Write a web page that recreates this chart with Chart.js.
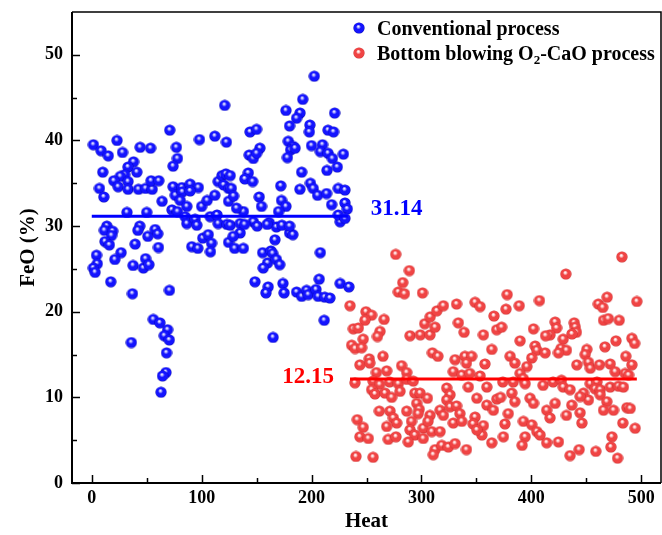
<!DOCTYPE html>
<html><head><meta charset="utf-8">
<script src="https://cdn.jsdelivr.net/npm/chart.js@4.4.1/dist/chart.umd.min.js"></script>
<style>html,body{margin:0;padding:0;background:#fff;}canvas{display:block;}</style>
</head><body>
<canvas id="c" width="662" height="535"></canvas>
<script>
const seriesNames = ['Conventional process', 'Bottom blowing O2-CaO process'];
const xTicks = [0, 100, 200, 300, 400, 500];
const yTicks = [0, 10, 20, 30, 40, 50];
const blueMean = 31.14;
const redMean = 12.15;
const blueMeanRange = [0, 233];
const redMeanRange = [235, 496];

const blueX = [1.5,8.5,15,23,28,10,44,53.5,71,77,78,74,98,112,122.5,121,38,33,41,30,26,20,24,33,33,7,11,42.5,49,55,54,61,64,32,50,74,82,89.5,97,76,82.5,89.5,80.5,100,105,112,115,118.5,122,120,124.5,124.5,73,78,86.5,85,86.5,94,107.8,114,95.6,115,123,
13.7,11.5,19,18,12,16,26.7,21,4.3,5,1.5,3,17.3,37,43.7,42,39.5,51,57.7,60,60.7,37.6,47,49,52,70.7,56,62,69,66,70.5,36,68,67.5,64.4,63,91,96.5,101,106,109,108,124.5,
126,135,147,161.5,168,135,128.7,180,183,226,130,138,166.7,155.5,163,164.6,208,160,156,168,171,148.5,160.5,158.5,174,175,207,186.4,191,195.5,197,204,206,212,216.7,226,234,211.5,165,
202.5,192,176.7,189.5,186.4,221,180,198.5,198,215,220,144,150,178.8,183.4,181,178,185,200,210,208,215,219,229,223.4,214,143.3,147,153,150,191,142.4,139.3,146.4,172,189.4,199,201.5,205.5,213.7,224.3,230.4,152.4,172.7,176.7,218.3,230.4,232.5,154.5,138,131.7,224.3,230.4,170,139,150.5,159.6,173,180,126,127,129];
const blueY = [39.5,38.8,38.2,40,38.6,36.3,39.2,39.1,41.2,39.2,37.9,37,40.1,40.5,39.8,44.1,37.5,36.9,36.3,36,35.8,35.3,34.6,35.2,34.3,34.4,33.4,34.3,34.4,34.3,35.3,35.3,32.9,31.6,31.6,34.6,34.5,34.9,34.5,33.6,34,34.1,33,32.3,33,33.6,35.2,35.9,36.1,34.8,34.4,32.9,31.9,31.7,32.3,31.1,30.3,30.8,31.1,31.3,30.1,30.3,30.2,
30,29.5,29.4,28.9,28.2,27.8,26.9,26.1,26.6,25.6,25.1,24.6,23.5,22.1,30,29.5,27.9,28.8,29.6,29.1,27.5,25.4,25.1,26.2,25.5,22.5,19.1,18.7,17.9,17.2,16.7,16.4,15.2,12.9,12.5,10.6,27.6,27.4,28.6,29,28,27,28.1,
30.1,30.3,30.5,30.4,29.9,29.2,28.8,29.2,29,30.5,27.4,27.4,28.4,26.9,27.1,26.8,26.9,25.7,25.1,26.1,25.5,23.5,22.9,22.2,23.3,22.2,23.8,22.3,21.8,22.5,22,22.6,21.8,21.7,21.6,23.3,22.9,19,17,
47.5,44.8,43.5,43.2,42.6,43.2,41.7,41.8,41,41.2,41,41,41.3,39.9,39.3,38.9,38,39.1,39.4,39.5,38.7,38.5,37.9,38.4,36.9,36.5,38.3,37.9,39.1,38.5,36.3,36.2,35.5,35.2,34.7,34.3,35,34.4,33.6,33.8,34.4,34.2,33.4,33,32.3,32.5,32.7,32,32.3,31.7,32.1,31.3,30.9,31.7,30.2,30,30.2,30.1,30,35.9,34.4,33.5];

const redX = [276.6,289,283,279,284.5,301,235,249.5,254.7,248.6,238,242.6,247,236.5,239.6,245.6,266,262.3,260,265,252.5,289.6,299,307.8,303,308,314,320,312.4,332,333.6,338.8,348.8,353.4,366,356.4,368.5,364,310,315,330.6,339.6,345.7,
482.4,431.4,378,377,389,407.4,461,465,469,496,465.7,470,480,373,402,421.7,423,417,413,429,439,440,441,437,389.8,403.5,405,412.6,427,432,450.5,449,467,477,491.5,494,486,380.7,400.4,
244,253,259,268.4,282,286.6,329,336.7,341,344,353.4,357.8,239.5,256,262,271,279,286.6,292.6,342.7,359.5,350.4,368.6,359.5,365.5,254.7,257.7,266.8,272.9,280.5,294,298.7,305.4,295.7,298,297,323,326,323,261.7,271.4,274.4,277.5,286.6,307.8,317,326,332,335,320,329,336.7,348.8,347,356.4,355,350.4,241.6,247,244,251.7,268.4,269.8,276.8,291,289.6,294,301.7,306,309.4,301.7,288,317,312.4,310.8,318.5,324.5,330.6,341,364,240.4,256,
385,396,424.7,441.4,452,453.7,462,471.8,476.3,491.5,485.4,488.5,389.8,392.6,383.6,394.4,410.7,419.8,427.4,429,435.3,453.6,459.7,458,462.7,471.8,479.3,483.8,447.5,452,444.4,462.7,382.2,385,398.9,402,379,376,374.6,421.7,414,417,432,436.8,444.4,446,468.7,465.7,474.8,487,490,483.3,494.5,392.8,400.4,405,408,394.4,391.6,414,424.7,473.3,472.4,443.5,435.3,458.7,478.5,372,374];
const redY = [26.7,24.8,23.4,22.3,22.1,22.2,20.7,20,19.6,19,18,18.1,16.8,16.1,15.7,15.8,19.1,17.7,17.1,14.8,14.5,17.2,17.3,17.3,18.6,19.4,20.1,20.7,18.2,20.9,18.7,17.6,21.1,20.6,19.5,17.3,17.9,15.6,15.2,14.8,14.4,14.8,14.8,
26.4,24.4,22,20.3,20.7,21.3,20.9,20.5,21.7,21.2,19,19.2,19,18.2,18,18.8,18.1,17.3,17.2,16.8,18.7,18.2,17.6,17.4,16.6,16,15.5,15.2,15.7,15.5,15.6,15,15.9,16.6,16.9,16.3,14.8,14.8,14.6,
13.8,14,12.9,13.1,13.7,12.9,13,12.6,14,12.8,12.5,13.9,11.7,11.9,11.5,11.8,11.6,12.1,11.9,11.2,11.2,9.9,9.8,9.1,8.5,10.9,10.4,10.5,10,10.7,10.5,10.5,9.9,9.3,8.6,8.1,11.1,10.3,9.7,8.4,8.4,7.6,7,8.4,7.9,8.5,8.9,9,8.1,7.9,7,7.2,7.7,6.9,6.7,5.6,6.2,7.4,6.5,5.4,5.2,6.6,5.1,5.4,7.2,6.2,5.6,6.4,7.2,6,5.2,4.8,6,3.9,3.3,4.4,4.2,4.6,3.9,4.7,3.1,3,
14,13.6,15.2,13.8,14.1,13.4,13.8,13.9,13,13.8,12.8,12.6,12.8,12.2,11.8,11.6,11.4,11.8,12,11.2,10.9,11.6,11.8,11,10.9,11.2,11.3,11.2,10.5,9.7,10.1,10.3,10.5,9.5,9.9,9.3,8.1,6.9,5.4,9.3,8.5,7.6,7.9,9.1,8.2,7,9.5,8.5,8.5,8.8,8.7,7,6.4,7.2,6.8,6,5.6,5.4,4.4,4.7,4.8,5.4,4.2,3.9,3.2,3.7,2.9,10,11.8];

const FONT = "'Liberation Serif', 'Times New Roman', serif";

function makeBall(light, mid, edge) {
  const s = 12, c = document.createElement('canvas');
  c.width = s; c.height = s;
  const g = c.getContext('2d');
  const grad = g.createRadialGradient(5.2, 4.3, 0.2, 6, 6, 5.6);
  grad.addColorStop(0, '#ffffff');
  grad.addColorStop(0.16, light);
  grad.addColorStop(0.42, mid);
  grad.addColorStop(0.85, mid);
  grad.addColorStop(1, edge);
  g.fillStyle = grad;
  g.beginPath(); g.arc(6, 6, 5.6, 0, Math.PI * 2); g.fill();
  return c;
}
const blueBall = makeBall('#b8b8ff', '#1414ff', '#0000b0');
const redBall = makeBall('#ffd6d6', '#f04444', '#c82a2a');

const toPts = (xs, ys) => xs.map((v, i) => ({x: v, y: ys[i]}));

const decor = {
  id: 'decor',
  afterDatasetsDraw(chart) {
    const {ctx, chartArea: a, scales: {x, y}} = chart;
    ctx.save();
    ctx.strokeStyle = '#000';
    ctx.lineWidth = 1.5;
    for (let i = 0; i < yTicks.length; i++) {
      const py = Math.round(y.getPixelForValue(yTicks[i])) + 0.5;
      ctx.beginPath(); ctx.moveTo(a.left, py); ctx.lineTo(a.left + 8, py); ctx.stroke();
      const mv = yTicks[i] + (yTicks[1] - yTicks[0]) / 2;
      if (mv < y.max) {
        const pm = Math.round(y.getPixelForValue(mv)) + 0.5;
        ctx.beginPath(); ctx.moveTo(a.left, pm); ctx.lineTo(a.left + 5, pm); ctx.stroke();
      }
    }
    for (let i = 0; i < xTicks.length; i++) {
      const px = Math.round(x.getPixelForValue(xTicks[i])) + 0.5;
      ctx.beginPath(); ctx.moveTo(px, a.bottom); ctx.lineTo(px, a.bottom - 8); ctx.stroke();
      const mv = xTicks[i] + (xTicks[1] - xTicks[0]) / 2;
      if (mv < x.max) {
        const pm = Math.round(x.getPixelForValue(mv)) + 0.5;
        ctx.beginPath(); ctx.moveTo(pm, a.bottom); ctx.lineTo(pm, a.bottom - 5); ctx.stroke();
      }
    }
    ctx.lineWidth = 1.5;
    ctx.beginPath(); ctx.moveTo(a.left, a.top); ctx.lineTo(a.right, a.top); ctx.lineTo(a.right, a.bottom); ctx.stroke();
    ctx.lineWidth = 2;
    ctx.beginPath(); ctx.moveTo(a.left, a.top); ctx.lineTo(a.left, a.bottom); ctx.lineTo(a.right, a.bottom); ctx.stroke();

    ctx.font = 'bold 23px ' + FONT;
    ctx.textBaseline = 'alphabetic';
    ctx.fillStyle = '#0000ff';
    ctx.textAlign = 'left';
    ctx.fillText(blueMean.toFixed(2), x.getPixelForValue(blueMeanRange[1]) + 23, y.getPixelForValue(blueMean) - 1.5);
    ctx.fillStyle = '#ff0000';
    ctx.textAlign = 'right';
    ctx.fillText(redMean.toFixed(2), x.getPixelForValue(redMeanRange[0]) - 16, y.getPixelForValue(redMean) + 4);

    const lx = 359, tx = 377;
    const rows = [28, 53];
    ctx.drawImage(blueBall, lx - 6, rows[0] - 6);
    ctx.drawImage(redBall, lx - 6, rows[1] - 6);
    ctx.fillStyle = '#000';
    ctx.textAlign = 'left';
    ctx.font = 'bold 20px ' + FONT;
    ctx.fillText(seriesNames[0], tx, rows[0] + 6.5);
    const parts = seriesNames[1].split('O2');
    let cx = tx;
    const by = rows[1] + 6.5;
    ctx.fillText(parts[0] + 'O', cx, by);
    cx += ctx.measureText(parts[0] + 'O').width;
    ctx.font = 'bold 13px ' + FONT;
    ctx.fillText('2', cx, by + 4);
    cx += ctx.measureText('2').width;
    ctx.font = 'bold 20px ' + FONT;
    ctx.fillText(parts[1], cx, by);
    ctx.restore();
  }
};

const tickFont = {family: FONT, size: 18, weight: 'bold'};
const titleFont = {family: FONT, size: 21, weight: 'bold'};
function noPad(s) { s.paddingTop = 0; s.paddingBottom = 0; s.paddingLeft = 0; s.paddingRight = 0; }

new Chart(document.getElementById('c'), {
  type: 'scatter',
  data: {
    datasets: [
      {label: 'mean1', type: 'line', data: [{x: blueMeanRange[0], y: blueMean}, {x: blueMeanRange[1], y: blueMean}], borderColor: '#0000ff', borderWidth: 3, pointRadius: 0, fill: false, order: 0},
      {label: 'mean2', type: 'line', data: [{x: redMeanRange[0], y: redMean}, {x: redMeanRange[1], y: redMean}], borderColor: '#ff0000', borderWidth: 3, pointRadius: 0, fill: false, order: 0},
      {label: seriesNames[1], data: toPts(redX, redY), pointStyle: redBall, pointRadius: 6, order: 1},
      {label: seriesNames[0], data: toPts(blueX, blueY), pointStyle: blueBall, pointRadius: 6, order: 2}
    ]
  },
  options: {
    responsive: false,
    animation: false,
    devicePixelRatio: 1,
    layout: {autoPadding: false, padding: {top: 12, right: 1, left: 0, bottom: 0}},
    plugins: {legend: {display: false}, tooltip: {enabled: false}},
    scales: {
      x: {
        type: 'linear', min: -18, max: 518,
        afterFit(s) { s.height = 52; noPad(s); },
        grid: {display: false, drawTicks: false},
        border: {display: false},
        ticks: {stepSize: 100, includeBounds: false, padding: 5, color: '#000', font: tickFont,
          callback: v => xTicks.includes(v) ? String(v) : ''},
        title: {display: true, text: 'Heat', color: '#000', font: titleFont, padding: {top: 0, bottom: 1}}
      },
      y: {
        type: 'linear', min: 0, max: 55,
        afterFit(s) { s.width = 72; noPad(s); },
        grid: {display: false, drawTicks: false},
        border: {display: false},
        ticks: {stepSize: 10, includeBounds: false, padding: 9, color: '#000', font: tickFont,
          callback: v => yTicks.includes(v) ? String(v) : ''},
        title: {display: true, text: 'FeO (%)', color: '#000', font: titleFont, padding: {top: 16, bottom: 0}}
      }
    }
  },
  plugins: [decor]
});
</script>
</body></html>
